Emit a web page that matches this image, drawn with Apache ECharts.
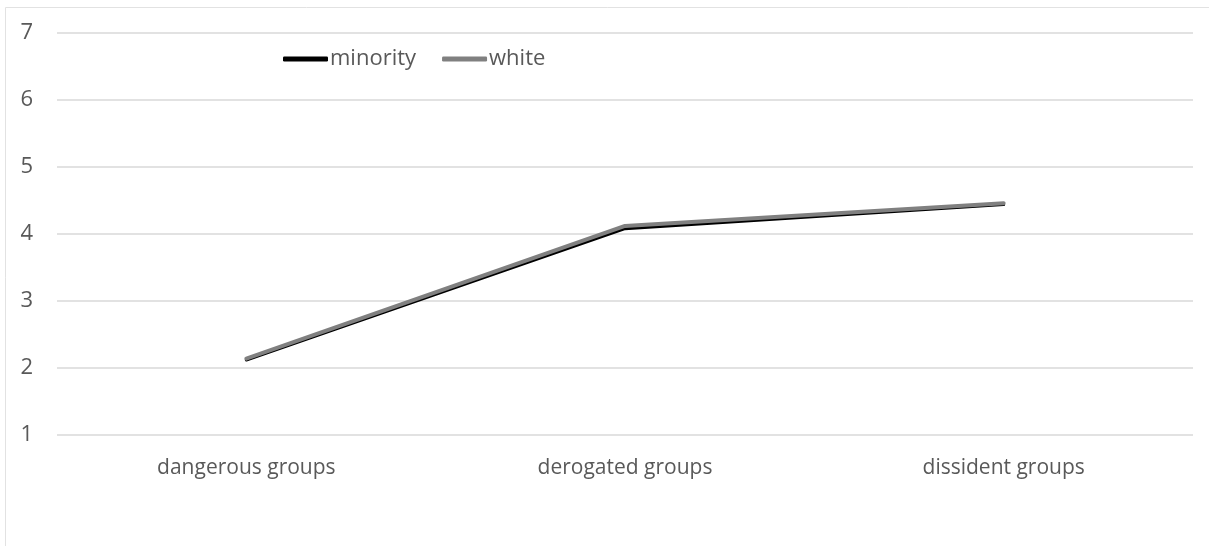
<!DOCTYPE html>
<html>
<head>
<meta charset="utf-8">
<style>
  html, body { margin: 0; padding: 0; background: #ffffff; }
  #chart { width: 1209px; height: 546px; }
</style>
<script src="https://cdn.jsdelivr.net/npm/echarts@6/dist/echarts.min.js"></script>
</head>
<body>
<div id="chart"></div>
<script>
// Mean ratings per target group
const categories = ['dangerous groups', 'derogated groups', 'dissident groups'];
const minority = [2.12, 4.08, 4.44];
const white = [2.14, 4.12, 4.46];
const yTicks = [1, 2, 3, 4, 5, 6, 7];

const chart = echarts.init(document.getElementById('chart'), null, { renderer: 'canvas' });
const labelFont = 'Open Sans, DejaVu Sans, sans-serif';

chart.setOption({
  animation: false,
  backgroundColor: '#ffffff',
  graphic: [{
    type: 'rect',
    shape: { x: 5.5, y: 7.5, width: 1400, height: 700 },
    style: { fill: 'none', stroke: '#e2e2e2', lineWidth: 1 },
    z: -10
  }],
  legend: {
    left: 278,
    top: 43,
    itemWidth: 45,
    itemHeight: 5,
    itemGap: 26,
    icon: 'roundRect',
    textStyle: { color: '#595959', fontSize: 22, fontFamily: labelFont, padding: [0, 0, 0, -3] },
    data: ['minority', 'white']
  },
  grid: { left: 57, right: 16, top: 33, bottom: 111, containLabel: false },
  xAxis: {
    type: 'category',
    data: categories,
    boundaryGap: true,
    axisLine: { show: false },
    axisTick: { show: false },
    axisLabel: { color: '#595959', fontSize: 21, fontFamily: labelFont, margin: 23 }
  },
  yAxis: {
    type: 'value',
    min: yTicks[0],
    max: yTicks[yTicks.length - 1],
    interval: 1,
    axisLine: { show: false },
    axisTick: { show: false },
    axisLabel: { color: '#595959', fontSize: 22, fontFamily: labelFont, margin: 24 },
    splitLine: { lineStyle: { color: '#d9d9d9', width: 1.5 } }
  },
  series: [
    {
      name: 'minority',
      type: 'line',
      data: minority,
      symbol: 'none',
      lineStyle: { color: '#000000', width: 3, cap: 'round', join: 'round' },
      itemStyle: { color: '#000000' },
      z: 2
    },
    {
      name: 'white',
      type: 'line',
      data: white,
      symbol: 'none',
      lineStyle: { color: '#808080', width: 4, cap: 'round', join: 'round' },
      itemStyle: { color: '#808080' },
      z: 3
    }
  ]
});
</script>
</body>
</html>
